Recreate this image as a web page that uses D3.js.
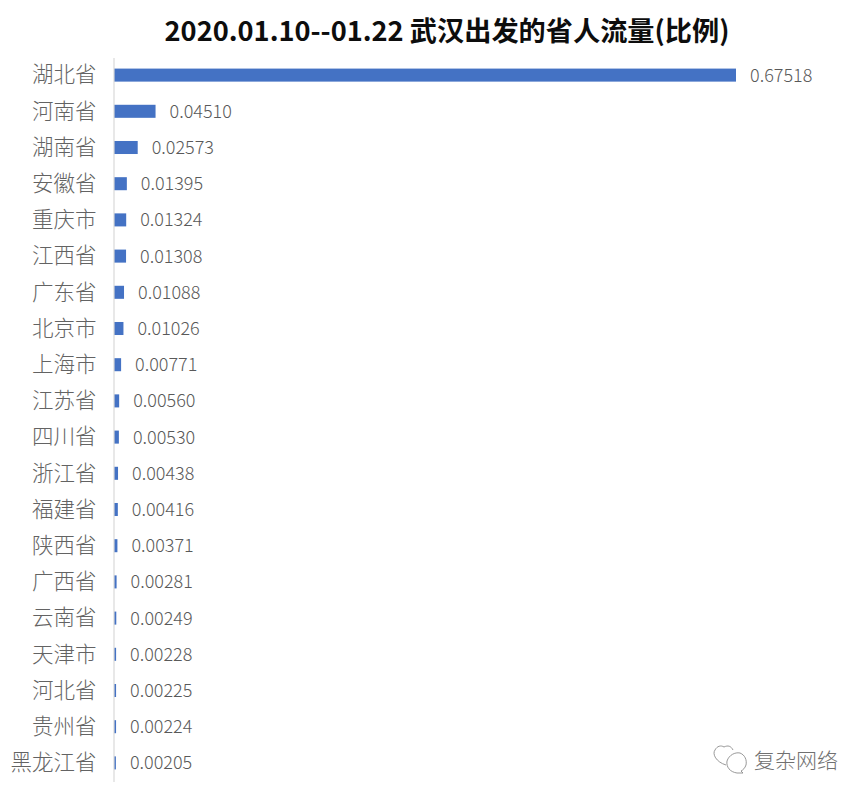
<!DOCTYPE html>
<html lang="zh">
<head>
    <meta charset="UTF-8">
    <title>武汉出发的省人流量</title>
    <script src="https://d3js.org/d3.v7.min.js"></script>
    <style>
        html, body { margin: 0; padding: 0; background: #fff; }
        svg { display: block; }
        text { font-family: "Noto Sans CJK SC", "Noto Sans", sans-serif; }
    </style>
</head>
<body>
<svg id="viz" width="865" height="798"></svg>

<script>
    var chartTitle = "2020.01.10--01.22 武汉出发的省人流量(比例)";
    var provinces = ["湖北省", "河南省", "湖南省", "安徽省", "重庆市", "江西省", "广东省", "北京市", "上海市", "江苏省",
        "四川省", "浙江省", "福建省", "陕西省", "广西省", "云南省", "天津市", "河北省", "贵州省", "黑龙江省"];
    var flowLabels = ["0.67518", "0.04510", "0.02573", "0.01395", "0.01324", "0.01308", "0.01088", "0.01026", "0.00771", "0.00560",
        "0.00530", "0.00438", "0.00416", "0.00371", "0.00281", "0.00249", "0.00228", "0.00225", "0.00224", "0.00205"];
    var flowValues = flowLabels.map(Number);

    var svg = d3.select("#viz");

    var x = d3.scaleLinear().domain([0, 0.67518]).range([114, 736]);
    var y = d3.scaleBand().domain(provinces).range([57, 781])
        .paddingInner(0.64).paddingOuter(0.32);

    // title
    svg.append("text")
        .attr("x", 447)
        .attr("y", 41)
        .attr("text-anchor", "middle")
        .attr("font-size", 27.2)
        .attr("font-weight", 700)
        .attr("fill", "#0d0d0d")
        .text(chartTitle);

    // bars
    svg.selectAll(".bar")
        .data(provinces)
        .enter()
        .append("rect")
        .attr("class", "bar")
        .attr("x", x(0))
        .attr("y", function (d) { return y(d); })
        .attr("width", function (d, i) { return x(flowValues[i]) - x(0); })
        .attr("height", y.bandwidth())
        .attr("fill", "#4472c4");

    // category axis
    var axis = svg.append("g")
        .attr("transform", "translate(113.5,0.5)")
        .call(d3.axisLeft(y).tickSize(0).tickPadding(17));
    axis.select(".domain").attr("stroke", "#d9d9d9").attr("stroke-width", 1.2);
    axis.selectAll("text")
        .attr("font-size", 21.5)
        .attr("font-family", '"Noto Sans CJK SC", sans-serif')
        .attr("font-weight", 300)
        .attr("fill", "#636363");

    // value labels
    svg.selectAll(".value")
        .data(provinces)
        .enter()
        .append("text")
        .attr("class", "value")
        .attr("x", function (d, i) { return x(flowValues[i]) + 14; })
        .attr("y", function (d) { return y(d) + y.bandwidth() / 2; })
        .attr("dy", "0.36em")
        .attr("font-size", 18)
        .attr("font-family", 'Roboto, sans-serif')
        .attr("font-weight", 300)
        .attr("fill", "#595959")
        .text(function (d, i) { return flowLabels[i]; });

    // watermark
    var mark = svg.append("g").attr("fill", "none").attr("stroke", "#8c8c8c").attr("stroke-width", 0.9);
    mark.append("path").attr("d", "M726 765 C716 762 712 754 715 750 C717 746 721 745 724 747 C728 745 731 746 733 750");
    mark.append("path").attr("d", "M737 773 C730 772 726 767 727 761 C729 755 735 752 740 753 C745 755 747 760 746 765 C745 768 743 770 741 771 L743 773 Z");
    svg.append("text")
        .attr("x", 838)
        .attr("y", 768)
        .attr("text-anchor", "end")
        .attr("font-size", 21)
        .attr("font-weight", 300)
        .attr("fill", "#707070")
        .text("复杂网络");
</script>
</body>
</html>
